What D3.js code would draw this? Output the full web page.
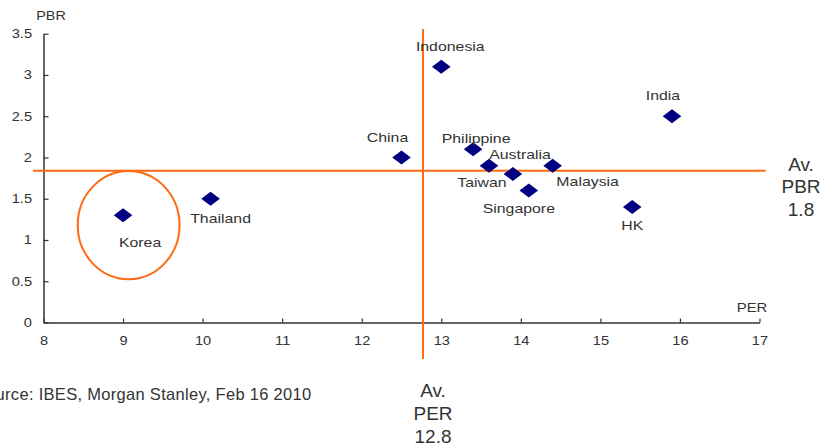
<!DOCTYPE html>
<html><head><meta charset="utf-8">
<script src="https://cdn.jsdelivr.net/npm/d3@7"></script>
<style>
body{margin:0;background:#fff;}
svg{display:block;}
text{font-family:"Liberation Sans",Arial,sans-serif;fill:#333;}
</style></head>
<body><svg id="c" width="822" height="446"></svg>
<script>
// ---- data ----
const countries = ["Indonesia","India","China","Philippine","Australia","Taiwan","Malaysia","Singapore","HK","Thailand","Korea"];
const per = [13.0,15.9,12.5,13.4,13.6,13.9,14.4,14.1,15.4,10.1,9.0];
const pbr = [3.1,2.5,2.0,2.1,1.9,1.8,1.9,1.6,1.4,1.5,1.3];
const xTicks = [8,9,10,11,12,13,14,15,16,17];
const yTicks = [0,0.5,1,1.5,2,2.5,3,3.5];
const avPER = 12.77;
const avPBR = 1.84;
const highlight = {per:9.07, pbr:1.18, rPer:0.64, rPbr:0.655}; // circle round Korea
const sourceText = "Source: IBES, Morgan Stanley, Feb 16 2010";

// label offsets (layout, px)
const labelOffsets = {
  Indonesia:[9,-20], India:[-9,-21], China:[-14,-20], Philippine:[3,-11],
  Australia:[31,-11], Taiwan:[-31,8], Malaysia:[35,16], Singapore:[-10,18],
  HK:[0,18], Thailand:[10,20], Korea:[17,27]
};

const svg = d3.select("#c");
const x = d3.scaleLinear().domain([8,17]).range([43.5,759.5]);
const y = d3.scaleLinear().domain([0,3.5]).range([322.5,33.7]);
const orange = "#ff6a13";
const SX = 1.22;

// axes
const fmt = d3.format("~g");
const gy = svg.append("g").attr("transform",`translate(${x(8)},0)`)
  .call(d3.axisLeft(y).tickValues(yTicks).tickFormat(fmt).tickSizeInner(-5).tickSizeOuter(0).tickPadding(11.5));
const gx = svg.append("g").attr("transform",`translate(0,${y(0)})`)
  .call(d3.axisBottom(x).tickValues(xTicks).tickFormat(fmt).tickSizeInner(-4).tickSizeOuter(0).tickPadding(13.5));
[gy,gx].forEach(g=>{
  g.select(".domain").attr("stroke","#333").attr("stroke-width",1.5);
  g.selectAll(".tick line").attr("stroke","#333").attr("stroke-width",1.2);
  g.selectAll(".tick text").attr("font-size",12).attr("fill","#333")
    .style("font-family","'Liberation Sans',Arial,sans-serif");
});
// stretch tick labels horizontally around their anchor
gy.selectAll(".tick text").each(function(){
  const t=d3.select(this); const xv=+t.attr("x");
  t.attr("x", xv/SX).attr("transform",`scale(${SX},1)`);
});
gx.selectAll(".tick text").attr("transform",`scale(${SX},1)`);

// axis titles
function sText(px,py,str,size,anchor,sx){
  return svg.append("g").attr("transform",`translate(${px},${py}) scale(${sx},1)`)
    .append("text").attr("text-anchor",anchor).attr("font-size",size)
    .attr("dy","0.35em").text(str);
}
sText(51,16,"PBR",12,"middle",1.2);
sText(752,307.5,"PER",12,"middle",1.24);

// average lines
svg.append("line").attr("x1",x(avPER)).attr("x2",x(avPER))
  .attr("y1",29).attr("y2",359).attr("stroke",orange).attr("stroke-width",2);
svg.append("line").attr("x1",33).attr("x2",765.7)
  .attr("y1",y(avPBR)).attr("y2",y(avPBR)).attr("stroke",orange).attr("stroke-width",2);

// highlight ellipse
svg.append("ellipse")
  .attr("cx",x(highlight.per)).attr("cy",y(highlight.pbr))
  .attr("rx",x(highlight.per+highlight.rPer)-x(highlight.per))
  .attr("ry",y(highlight.pbr-highlight.rPbr)-y(highlight.pbr))
  .attr("fill","none").attr("stroke",orange).attr("stroke-width",2);

// points
const data = countries.map((c,i)=>({c, per:per[i], pbr:pbr[i]}));
svg.append("g").selectAll("path").data(data).join("path")
  .attr("transform",d=>`translate(${x(d.per)},${y(d.pbr)})`)
  .attr("d","M0,-7L9.3,0L0,7L-9.3,0Z").attr("fill","#000080");

// labels
svg.append("g").selectAll("g").data(data).join("g")
  .attr("transform",d=>{
    const o=labelOffsets[d.c];
    return `translate(${x(d.per)+o[0]},${y(d.pbr)+o[1]}) scale(${SX},1)`;
  })
  .append("text").attr("text-anchor","middle").attr("dy","0.35em")
  .attr("font-size",13).text(d=>d.c);

// average annotations
const f1 = d3.format(".1f");
const perLines = ["Av.","PER",f1(avPER)];
svg.append("text").attr("text-anchor","middle").attr("font-size",19)
  .selectAll("tspan").data(perLines).join("tspan")
  .attr("x",433).attr("y",(d,i)=>390.5+i*22.7).attr("dy","0.35em").text(d=>d);
const pbrLines = ["Av.","PBR",f1(avPBR)];
svg.append("text").attr("text-anchor","middle").attr("font-size",19)
  .selectAll("tspan").data(pbrLines).join("tspan")
  .attr("x",801).attr("y",(d,i)=>164+i*22.7).attr("dy","0.35em").text(d=>d);

// source
svg.append("text").attr("x",311.5).attr("y",394).attr("dy","0.35em")
  .attr("text-anchor","end").attr("font-size",16.5).attr("letter-spacing",0.3).text(sourceText);
</script></body></html>
